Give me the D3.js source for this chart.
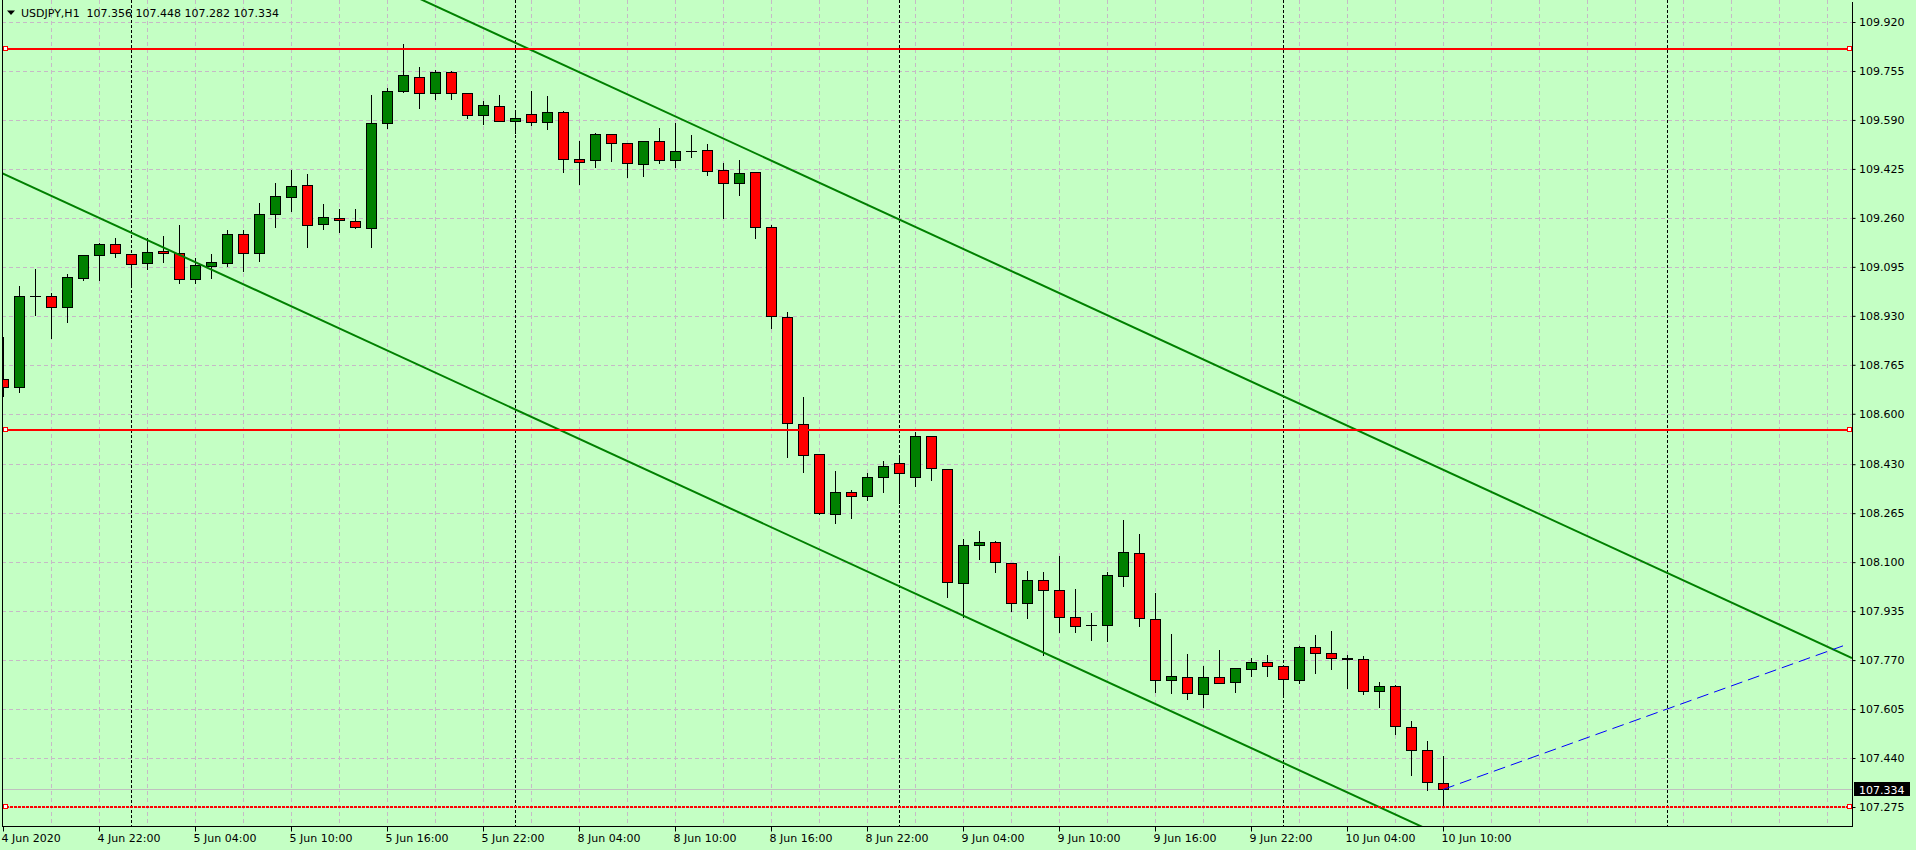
<!DOCTYPE html>
<html><head><meta charset="utf-8">
<script src="https://cdn.jsdelivr.net/npm/d3@7"></script>
<style>
html,body{margin:0;padding:0;background:#c4ffc4;overflow:hidden}
svg{display:block}
text{font-family:"DejaVu Sans",sans-serif;font-size:11px;fill:#000}
</style></head><body>
<svg id="c" width="1916" height="850"></svg>
<script>
// ---------- data ----------
const symbol = "USDJPY,H1";
const opens  = [108.716,108.691,108.996,108.996,108.961,109.059,109.134,109.171,109.137,109.107,
  109.148,109.141,109.053,109.099,109.109,109.205,109.143,109.274,109.332,109.370,
  109.240,109.260,109.249,109.225,109.579,109.689,109.734,109.680,109.751,109.680,
  109.606,109.636,109.585,109.609,109.582,109.616,109.457,109.454,109.542,109.511,
  109.441,109.518,109.454,109.484,109.488,109.420,109.377,109.414,109.228,108.925,
  108.565,108.463,108.261,108.335,108.322,108.386,108.433,108.386,108.524,108.413,
  108.029,108.157,108.167,108.096,107.961,108.039,108.005,107.914,107.888,107.887,
  108.052,108.130,107.908,107.702,107.712,107.655,107.712,107.695,107.739,107.763,
  107.749,107.702,107.813,107.793,107.776,107.773,107.665,107.682,107.544,107.466,107.356];
const highs  = [108.860,109.030,109.088,109.006,109.071,109.134,109.176,109.191,109.137,109.191,
  109.199,109.236,109.124,109.138,109.219,109.219,109.309,109.377,109.421,109.408,
  109.307,109.290,109.290,109.674,109.697,109.846,109.767,109.758,109.754,109.680,
  109.654,109.674,109.623,109.688,109.671,109.619,109.519,109.545,109.542,109.511,
  109.518,109.562,109.581,109.538,109.508,109.444,109.455,109.414,109.237,108.944,
  108.657,108.463,108.407,108.343,108.401,108.440,108.458,108.538,108.524,108.413,
  108.178,108.205,108.172,108.096,108.070,108.066,108.122,108.010,107.930,108.067,
  108.242,108.194,107.996,107.858,107.791,107.750,107.804,107.742,107.776,107.786,
  107.749,107.817,107.854,107.868,107.786,107.783,107.695,107.685,107.565,107.498,107.448];
const lows   = [108.660,108.674,108.933,108.856,108.910,109.051,109.051,109.129,109.028,109.088,
  109.112,109.040,109.040,109.058,109.098,109.082,109.116,109.230,109.284,109.163,
  109.224,109.213,109.225,109.163,109.562,109.685,109.631,109.662,109.662,109.598,
  109.575,109.585,109.545,109.572,109.558,109.414,109.373,109.432,109.453,109.399,
  109.400,109.444,109.430,109.464,109.406,109.261,109.336,109.193,108.888,108.455,
  108.405,108.261,108.231,108.250,108.310,108.337,108.300,108.358,108.378,107.984,
  107.916,108.112,108.068,107.936,107.913,107.787,107.865,107.865,107.838,107.835,
  108.021,107.886,107.663,107.658,107.640,107.613,107.692,107.662,107.718,107.718,
  107.655,107.692,107.726,107.739,107.675,107.655,107.611,107.520,107.382,107.331,107.282];
const closes = [108.691,108.996,108.996,108.961,109.060,109.134,109.171,109.141,109.104,109.144,
  109.141,109.053,109.100,109.110,109.205,109.143,109.272,109.333,109.366,109.237,
  109.262,109.252,109.228,109.579,109.687,109.740,109.680,109.751,109.680,109.606,
  109.639,109.585,109.596,109.582,109.616,109.457,109.447,109.542,109.511,109.444,
  109.518,109.454,109.484,109.484,109.417,109.377,109.410,109.228,108.929,108.568,
  108.460,108.265,108.335,108.322,108.386,108.423,108.399,108.524,108.416,108.032,
  108.157,108.167,108.100,107.961,108.039,108.005,107.914,107.886,107.888,108.056,
  108.133,107.911,107.702,107.716,107.658,107.712,107.692,107.742,107.763,107.749,
  107.705,107.813,107.793,107.776,107.774,107.665,107.682,107.548,107.466,107.359,107.334];
const timeLabels    = ["4 Jun 2020","4 Jun 22:00","5 Jun 04:00","5 Jun 10:00","5 Jun 16:00","5 Jun 22:00",
  "8 Jun 04:00","8 Jun 10:00","8 Jun 16:00","8 Jun 22:00","9 Jun 04:00","9 Jun 10:00","9 Jun 16:00",
  "9 Jun 22:00","10 Jun 04:00","10 Jun 10:00"];
const timeLabelBars = [0,6,12,18,24,30,36,42,48,54,60,66,72,78,84,90];
const separatorBars = [8,32,56,80,104];
const priceTicks = [109.920,109.755,109.590,109.425,109.260,109.095,108.930,108.765,108.600,
  108.430,108.265,108.100,107.935,107.770,107.605,107.440,107.275];
const resistanceLevels = [109.829,108.545];
const supportLevel = 107.275;
const trendUpper = [{bar:40,price:109.652},{bar:104,price:108.064}];
const trendLower = [{bar:0,price:109.409},{bar:64,price:107.821}];
const projection = [{bar:90,price:107.334},{bar:115,price:107.818}];
const lastBid = 107.334;

// ---------- layout ----------
const W=1916,H=850, L=2, R=1852, T=0, B=826;
const BG="#c4ffc4", GRID="#c6b9c6", GREEN="#008000", RED="#ff0000";
const svg=d3.select("#c");
svg.append("rect").attr("width",W).attr("height",H).attr("fill",BG);

const x=d3.scaleLinear().domain([0,115]).range([3,1843]);
const y=d3.scaleLinear().domain([109.920,107.275]).range([22,807]);
const px=v=>Math.round(x(v))+0.5;
const py=v=>Math.round(y(v))+0.5;

svg.append("defs").append("clipPath").attr("id","plot")
  .append("rect").attr("x",L).attr("y",T).attr("width",R-L).attr("height",B-T);
const plot=svg.append("g").attr("clip-path","url(#plot)");

// grid
const gridBars=d3.range(3,116,3);
plot.append("g").selectAll("line").data(gridBars).join("line")
  .attr("x1",d=>px(d)).attr("x2",d=>px(d)).attr("y1",T).attr("y2",B)
  .attr("stroke",GRID).attr("stroke-dasharray","4,3");
plot.append("g").selectAll("line").data(priceTicks).join("line")
  .attr("x1",L).attr("x2",R).attr("y1",d=>py(d)).attr("y2",d=>py(d))
  .attr("stroke",GRID).attr("stroke-dasharray","4,3");
// day separators
plot.append("g").selectAll("line").data(separatorBars).join("line")
  .attr("x1",d=>px(d)).attr("x2",d=>px(d)).attr("y1",T).attr("y2",B)
  .attr("stroke","#000").attr("stroke-dasharray","3,2");
// bid line
plot.append("line").attr("x1",L).attr("x2",R).attr("y1",py(lastBid)).attr("y2",py(lastBid))
  .attr("stroke","#c0c0c0");

// candles
const bars=opens.map((o,i)=>({i,o,h:highs[i],l:lows[i],c:closes[i]}));
const cg=plot.append("g");
bars.forEach(b=>{
  const cx=Math.round(x(b.i));
  cg.append("line").attr("x1",cx+0.5).attr("x2",cx+0.5)
    .attr("y1",Math.round(y(b.h))).attr("y2",Math.round(y(b.l))+1)
    .attr("stroke","#000");
  const yo=Math.round(y(b.o)), yc=Math.round(y(b.c));
  const top=Math.min(yo,yc), bot=Math.max(yo,yc);
  if(bot-top<1){
    cg.append("line").attr("x1",cx-5).attr("x2",cx+6).attr("y1",top+0.5).attr("y2",top+0.5)
      .attr("stroke","#000");
  } else {
    cg.append("rect").attr("x",cx-4.5).attr("y",top+0.5).attr("width",10).attr("height",bot-top)
      .attr("fill",b.c>b.o?GREEN:RED).attr("stroke","#000");
  }
});

// trend lines
function extend(pts){
  const [a,b]=pts, s=(b.price-a.price)/(b.bar-a.bar);
  const b0=x.invert(L), b1=x.invert(R);
  return [[x(b0),y(a.price+s*(b0-a.bar))],[x(b1),y(a.price+s*(b1-a.bar))]];
}
[trendUpper,trendLower].forEach(t=>{
  const e=extend(t);
  plot.append("line").attr("x1",e[0][0]).attr("y1",e[0][1]).attr("x2",e[1][0]).attr("y2",e[1][1])
    .attr("stroke",GREEN).attr("stroke-width",2);
});
// projection dashed line
plot.append("line")
  .attr("x1",x(projection[0].bar)).attr("y1",y(projection[0].price))
  .attr("x2",x(projection[1].bar)).attr("y2",y(projection[1].price))
  .attr("stroke","#0000ff").attr("stroke-dasharray","12,6");

// horizontal levels
resistanceLevels.forEach(v=>{
  plot.append("line").attr("x1",L).attr("x2",R).attr("y1",Math.round(y(v))).attr("y2",Math.round(y(v)))
    .attr("stroke",RED).attr("stroke-width",2);
});
plot.append("line").attr("x1",L).attr("x2",R).attr("y1",Math.round(y(supportLevel))).attr("y2",Math.round(y(supportLevel)))
  .attr("stroke",RED).attr("stroke-width",2).attr("stroke-dasharray","3,1");
// selection squares
resistanceLevels.concat([supportLevel]).forEach(v=>{
  const yy=Math.round(y(v));
  [3.5,1847.5].forEach(xx=>{
    svg.append("rect").attr("x",xx).attr("y",yy-2.5).attr("width",4).attr("height",4)
      .attr("fill","#ffffff").attr("stroke",RED);
  });
});

// frame
svg.append("line").attr("x1",L+0.5).attr("x2",L+0.5).attr("y1",T).attr("y2",B+1).attr("stroke","#000");

// right axis
const ya=svg.append("g").attr("transform",`translate(${R+0.5},0)`)
  .call(d3.axisRight(y).tickValues(priceTicks).tickFormat(d=>d.toFixed(3)).tickSize(3).tickPadding(3.5).tickSizeOuter(0));
ya.select(".domain").remove();
ya.selectAll("text").attr("font-family",null).attr("font-size",null).style("font-family","DejaVu Sans").style("font-size","11px");
svg.append("line").attr("x1",R+0.5).attr("x2",R+0.5).attr("y1",2).attr("y2",B+1).attr("stroke","#000");

// bottom axis
const xa=svg.append("g").attr("transform",`translate(0,${B+0.5})`)
  .call(d3.axisBottom(x).tickValues(timeLabelBars).tickFormat((d,i)=>timeLabels[i]).tickSize(5).tickSizeOuter(0));
xa.select(".domain").remove();
xa.selectAll("text").attr("text-anchor","start").attr("x",-2).attr("y",15.5).attr("dy",null)
  .attr("font-family",null).attr("font-size",null).style("font-family","DejaVu Sans").style("font-size","11px");
svg.append("line").attr("x1",L).attr("x2",R+1).attr("y1",B+0.5).attr("y2",B+0.5).attr("stroke","#000");

// current price label
const by=Math.round(y(lastBid));
svg.append("rect").attr("x",1854).attr("y",by-7).attr("width",56).attr("height",14).attr("fill","#000");
svg.append("text").attr("x",1859).attr("y",by+4.5).text(lastBid.toFixed(3)).style("fill","#fff");

// title
svg.append("path").attr("d","M7,10.5 L15,10.5 L11,15 Z").attr("fill","#000");
svg.append("text").attr("x",21).attr("y",17).style("white-space","pre")
  .text(`${symbol}  ${opens[90].toFixed(3)} ${highs[90].toFixed(3)} ${lows[90].toFixed(3)} ${closes[90].toFixed(3)}`);
</script>
</body></html>
